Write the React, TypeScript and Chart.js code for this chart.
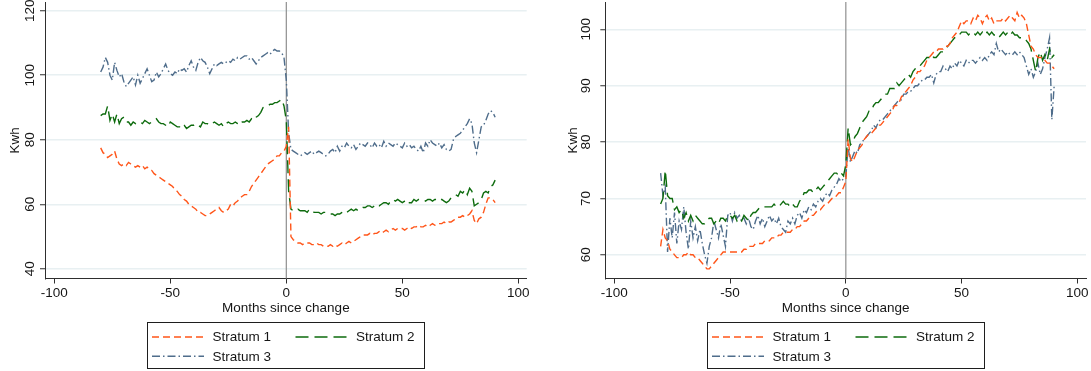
import React, { useEffect, useRef } from "react";
import { Chart, registerables } from "chart.js";

Chart.register(...registerables);

// ---------- data ----------
const MONTH_FIRST = -80; // first month in every series (series run monthly from -80 to 90)
const SERIES_LABELS = ["Stratum 1", "Stratum 2", "Stratum 3"];
const X_TITLE = "Months since change";
const Y_TITLE = "Kwh";
const X_TICKS = [-100, -50, 0, 50, 100];
const LEFT_Y_TICKS = [40, 60, 80, 100, 120];
const RIGHT_Y_TICKS = [60, 70, 80, 90, 100];

const LEFT_S1 = [
  77.5, 76, 75.5, 74.5, 75, 75.5, 76.5, 74, 72.5, 72,
  72.5, 72, 73, 72.5, 72, 71.5, 72, 71.5, 72, 71,
  71.5, 71, 70.5, 69.5, 69, 68.5, 68, 67.5, 67, 66.5,
  66, 65.5, 64.5, 64, 63, 62.5, 61.5, 61, 60, 59.5,
  59, 58.5, 57.5, 57.5, 57, 56.5, 56.5, 57, 57.5, 58,
  58.5, 59, 58, 57.5, 58, 58.5, 60, 59.5, 60.5, 61,
  62, 62.5, 63, 63, 64, 65.5, 66.5, 67.5, 68.5, 69.5,
  70.5, 71.5, 72.5, 73, 73.5, 74, 75, 75, 76, 76.5,
  78, 84, 50, 49, 48.5, 48, 48, 47.5, 48, 48,
  48, 47.5, 47.5, 48, 47.5, 47.5, 47, 47, 47, 47.5,
  47, 47.5, 47, 47.5, 48, 47.5, 48, 48.5, 48, 48.5,
  49, 49.5, 50, 50.5, 50.5, 50.5, 51, 50.5, 51, 51,
  51.5, 51, 51.5, 52, 51.5, 52, 52.5, 52, 52.5, 52.5,
  52.5, 52, 52.5, 53, 52.5, 53, 53, 53.5, 53, 53,
  53.5, 53, 53.5, 54, 53.5, 54, 54, 54, 54.5, 54,
  54.5, 54.5, 55, 55.5, 56, 56, 56.5, 56, 56.5, 57,
  58, 55, 54, 55.5, 56, 57.5, 60, 62, 62, 61.5,
  60.5,
];
const LEFT_S2 = [
  87.5, 88, 88, 90.5, 86, 88, 85.5, 88, 85, 86.5,
  87, 85.5, 85.5, 84.5, 85.5, 85, 85.5, 85.5, 85, 86,
  85.5, 85, 85.5, 86, 86.5, 85.5, 85, 85, 84.5, 84,
  85.5, 85, 84.5, 84, 84, 85, 84.5, 83.5, 84, 84.5,
  84.5, 85, 84.5, 84, 85.5, 85, 85, 84.5, 85, 85.5,
  85, 84.5, 85, 84, 85, 85.5, 85, 85, 85.5, 85,
  84.5, 85.5, 85.5, 86, 85.5, 86.5, 86, 87, 87.5, 88.5,
  90, 90.5, 90.5, 91, 91, 91.5, 91.5, 92, 92.5, 90.5,
  86, 64, 58.5, 58, 58, 58.5, 58, 58, 58, 57.5,
  58.5, 58, 57.5, 57.5, 57.5, 57, 57.5, 57.5, 57, 57,
  57, 56.5, 57, 57, 57.5, 58, 57.5, 58, 58.5, 58,
  58.5, 58, 58.5, 59, 59, 59.5, 59.5, 59, 59.5, 60,
  59.5, 60, 60.5, 60.5, 60, 61, 61.5, 61, 61.5, 61,
  60.5, 61, 61.5, 60.5, 60.5, 61.5, 61, 61.5, 61.5, 61.5,
  61, 61.5, 61.5, 61, 61.5, 61.5, 61, 61.5, 61, 60.5,
  61, 62, 62.5, 63, 62.5, 64, 63.5, 64.5, 63, 65,
  64, 59.5, 60, 60.5, 61.5, 63.5, 64, 63.5, 65.5, 66,
  67.5,
];
const LEFT_S3 = [
  101, 102.5, 105.5, 104, 100, 98.5, 104, 101.5, 99.5, 100.5,
  98, 96.5, 97.5, 98.5, 99.5, 97, 100, 97.5, 99, 100.5,
  102, 100, 98, 98.5, 101, 99.5, 100.5, 102, 103.5, 101.5,
  100.5, 100, 101, 100.5, 102, 101.5, 102, 101, 103, 104.5,
  102.5, 101.5, 104, 105.5, 104.5, 104, 102.5, 100.5, 102, 103.5,
  103, 103.5, 104, 103.5, 104, 104.5, 104, 105, 104.5, 105.5,
  105, 105.5, 106, 106, 105, 105.5, 104.5, 103.5, 104.5, 105.5,
  106, 106.5, 107, 106.5, 107.5, 108, 107.5, 107.5, 107, 105.5,
  98.5, 82, 77, 76.5, 76, 75.5, 75, 75.5, 76, 75.5,
  76, 76.5, 75.5, 76, 76.5, 76, 75.5, 75, 75.5, 76.5,
  77, 76, 78, 76.5, 78, 77.5, 79, 78, 77.5, 78.5,
  77, 78, 79, 78.5, 78, 79, 78.5, 77.5, 79, 78,
  78.5, 77.5, 79.5, 78, 79, 78.5, 78, 79, 78.5, 78,
  77.5, 79, 78, 78.5, 77.5, 78, 77, 76.5, 78, 76,
  79, 78, 80, 79, 78.5, 78, 79, 77.5, 78.5, 77,
  76.5, 77, 80, 81, 81.5, 82, 83, 84, 85, 86.5,
  85, 79, 76, 80, 84, 84.5, 86, 88, 89, 88.5,
  87,
];

const RIGHT_S1 = [
  61.5, 64.5, 63, 62.5, 61, 60.5, 60, 59.5, 59.5, 59.5,
  60, 60, 60.5, 60, 60, 59.5, 59.5, 59, 58.5, 58,
  57.5, 57.5, 58, 58.5, 59, 59.5, 60, 60.5, 60.5, 60.5,
  60.5, 60.5, 60.5, 60.5, 60.5, 60.5, 61, 61, 61.5, 61.5,
  61.5, 62, 62, 62, 62, 62.5, 62.5, 62.5, 63, 63,
  63, 63.5, 63.5, 64, 64, 64, 64, 64.5, 64.5, 65,
  65, 65.5, 66, 66, 66.5, 67, 67, 67.5, 68, 68,
  68.5, 69, 69, 69.5, 70, 70, 70.5, 71, 71, 72,
  73, 80.5, 77, 76.5, 77.5, 78.5, 79, 79.5, 80.5, 81,
  81.5, 81.5, 82, 82.5, 83, 83, 83.5, 84, 84.5, 85,
  85.5, 86.5, 86.5, 87, 88, 88.5, 89, 89.5, 90, 91,
  91.5, 92.5, 92.5, 93, 93.5, 94.5, 95, 95.5, 96, 96,
  96.5, 96.5, 96.5, 97, 97, 97.5, 98.5, 99, 99.5, 100.5,
  101.5, 101, 101.5, 101.5, 101, 102, 101.5, 102.5, 102, 101,
  102, 102.5, 101.5, 102, 101, 101.5, 101.5, 101.5, 102, 101.5,
  102, 102.5, 102, 101.5, 103, 102, 102.5, 102, 101, 99,
  97, 96.5, 95.5, 95, 95, 95, 94.5, 94, 94, 93.5,
  93,
];
const RIGHT_S2 = [
  69, 70, 75, 70.5, 70, 70, 68, 68.5, 67.5, 68,
  66.5, 67.5, 66, 67, 66, 67, 66.5, 66, 65.5, 65.5,
  66, 66.5, 66.5, 65.5, 66, 65.5, 66.5, 66.5, 66, 67,
  67, 66.5, 67, 66, 66.5, 66, 67, 66.5, 66, 67,
  67.5, 67.5, 68, 68.5, 68.5, 68.5, 68.5, 68.5, 68.5, 69,
  68.5, 68.5, 69, 69.5, 69, 69, 68.5, 69, 68.5, 68.5,
  69.5, 70, 71, 71, 71.5, 71.5, 71, 71.5, 72, 71.5,
  72, 72.5, 73, 73.5, 74, 74.5, 74.5, 74, 74.5, 74,
  76, 82.5, 79.5, 80, 81, 81.5, 82.5, 83.5, 84, 84.5,
  85.5, 85.5, 86.5, 87, 87, 87.5, 88, 88.5, 88.5, 89.5,
  89.5, 89.5, 90.5, 90, 90.5, 91, 91.5, 92, 91.5, 92.5,
  93, 93, 93.5, 94, 94.5, 95, 95, 95.5, 95, 95,
  95.5, 96, 96, 96.5, 97, 97.5, 98, 98.5, 98.5, 99,
  99.5, 99.5, 99.5, 99, 99.5, 99.5, 99, 99.5, 99, 99.5,
  99, 99.5, 99, 99.5, 99, 99, 98.5, 99, 99.5, 99,
  99.5, 99, 99.5, 99, 99, 98.5, 98.5, 98.5, 98, 97.5,
  96.5, 94.5, 92.5, 95, 96, 94.5, 95.5, 94.5, 96.5, 95,
  95.5,
];
const RIGHT_S3 = [
  74.5, 70.5, 72, 60.5, 66.5, 63, 67.5, 62, 66, 64.5,
  68.5, 64, 61, 66, 63, 65, 62.5, 64.5, 62, 60,
  58.5, 61.5, 63, 66, 64.5, 63, 65.5, 63.5, 61.5, 67,
  67.5, 66, 67.5, 66.5, 67, 66, 66.5, 65.5, 66.5, 65,
  64.5, 66, 67, 65.5, 66.5, 65, 66, 67, 66, 66.5,
  65.5, 66.5, 65, 64.5, 64, 66, 65.5, 66.5, 65.5, 67,
  67.5, 66.5, 68, 67.5, 68.5, 68, 69, 68.5, 69.5, 70,
  69.5, 70.5, 71, 70.5, 71.5, 72, 72.5, 73.5, 73, 73.5,
  74, 79, 76.5, 77.5, 78.5, 78, 79.5, 80, 80.5, 81,
  81.5, 82, 83, 82.5, 83.5, 84, 84, 84.5, 85, 85.5,
  86, 86.5, 87, 87.5, 87.5, 88.5, 88.5, 89, 89, 89.5,
  90, 90, 90.5, 91, 91, 91.5, 91.5, 92, 90.5, 92,
  92.5, 92.5, 93.5, 93, 92.5, 93.5, 93, 94, 93.5, 94.5,
  94, 93.5, 94.5, 94, 94.5, 94.5, 94, 94.5, 95, 94.5,
  95, 94.5, 95.5, 96, 95.5, 97.5, 96, 96.5, 96, 95.5,
  96, 95.5, 95.5, 96, 95.5, 96, 95.5, 95, 93.5, 92,
  93, 91.5, 92.5, 94, 92, 93, 95, 96.5, 98.5, 84,
  90,
];

// ---------- styles ----------
const FONT = "'Liberation Sans', Arial, Helvetica, sans-serif";
const FONT_SIZE = 13.5;
const TEXT_COLOR = "#161616";
const AXIS_COLOR = "#2e2e2e";
const GRID_COLOR = "#e8f0f2";
const COLORS = ["#ff5519", "#0d6b0d", "#4f6d8b"];
const DASHES = [[7, 4], [13, 6], [8, 3, 1.5, 3]];
const HEIGHT = 371;

type PanelCfg = {
  series: number[][];
  yTicks: number[];
  yMin: number; yMax: number;
  xMin: number; xMax: number;
  width: number;
  yAxisWidth: number;
  rightPad: number;
  yLabelOffset: number;
  yTitlePad: number;
};

const LEFT: PanelCfg = {
  series: [LEFT_S1, LEFT_S2, LEFT_S3],
  yTicks: LEFT_Y_TICKS,
  yMin: 37.0, yMax: 122.7,
  xMin: -104.0, xMax: 103.6,
  width: 545,
  yAxisWidth: 45,
  rightPad: 18.3,
  yLabelOffset: 15,
  yTitlePad: 7,
};
const RIGHT: PanelCfg = {
  series: [RIGHT_S1, RIGHT_S2, RIGHT_S3],
  yTicks: RIGHT_Y_TICKS,
  yMin: 55.8, yMax: 104.85,
  xMin: -103.9, xMax: 103.75,
  width: 546,
  yAxisWidth: 60.3,
  rightPad: 5,
  yLabelOffset: 18.6,
  yTitlePad: 20.2,
};

function makeChart(canvas: HTMLCanvasElement, p: PanelCfg) {
  const font = { family: FONT, size: FONT_SIZE };

  const zeroLine = {
    id: "zeroLine",
    beforeDatasetsDraw(chart: any) {
      const { ctx, chartArea } = chart;
      const x = chart.scales.x.getPixelForValue(0);
      ctx.save();
      ctx.strokeStyle = "#8f8f8f";
      ctx.lineWidth = 1.2;
      ctx.beginPath();
      ctx.moveTo(x, chartArea.top);
      ctx.lineTo(x, chartArea.bottom);
      ctx.stroke();
      ctx.restore();
    },
  };

  const yLabels = {
    id: "yLabels",
    afterDraw(chart: any) {
      const { ctx, chartArea } = chart;
      const ys = chart.scales.y;
      ctx.save();
      ctx.font = `${FONT_SIZE}px ${FONT}`;
      ctx.fillStyle = TEXT_COLOR;
      ctx.textAlign = "center";
      ctx.textBaseline = "middle";
      ys.ticks.forEach((t: any) => {
        const py = ys.getPixelForValue(t.value);
        ctx.save();
        ctx.translate(chartArea.left - p.yLabelOffset, py);
        ctx.rotate(-Math.PI / 2);
        ctx.fillText(String(t.value), 0, 0);
        ctx.restore();
      });
      ctx.restore();
    },
  };

  const legendBox = {
    id: "legendBox",
    afterDraw(chart: any) {
      const { ctx, chartArea } = chart;
      const cx = (chartArea.left + chartArea.right) / 2;
      const L = Math.round(cx - 138.5);
      const top = 322.5;
      ctx.save();
      ctx.strokeStyle = "#1e1e1e";
      ctx.lineWidth = 1;
      ctx.strokeRect(L + 0.5, top, 277, 46);
      const rows = [337, 356.3];
      ctx.font = `${FONT_SIZE}px ${FONT}`;
      ctx.textBaseline = "middle";
      ctx.textAlign = "left";
      chart.data.datasets.forEach((ds: any, i: number) => {
        const col = i % 2;
        const row = Math.floor(i / 2);
        const x0 = L + 5 + col * 143.5;
        const y = rows[row];
        ctx.setLineDash(ds.borderDash);
        ctx.strokeStyle = ds.borderColor;
        ctx.lineWidth = 1.4;
        ctx.beginPath();
        ctx.moveTo(x0, y);
        ctx.lineTo(x0 + 52, y);
        ctx.stroke();
        ctx.setLineDash([]);
        ctx.fillStyle = TEXT_COLOR;
        ctx.fillText(ds.label, L + 65.5 + col * 143.5, y + 0.5);
      });
      ctx.restore();
    },
  };

  const datasets = p.series.map((arr, k) => ({
    label: SERIES_LABELS[k],
    data: arr.map((v, i) => ({ x: MONTH_FIRST + i, y: v })),
    borderColor: COLORS[k],
    backgroundColor: COLORS[k],
    borderDash: DASHES[k],
    borderWidth: 1.4,
    pointRadius: 0,
    fill: false,
    tension: 0,
  }));

  return new Chart(canvas, {
    type: "line",
    data: { datasets } as any,
    options: {
      responsive: false,
      animation: false,
      events: [],
      layout: { padding: { left: 0, top: 2, right: p.rightPad, bottom: 52.5 } },
      plugins: { legend: { display: false }, tooltip: { enabled: false } },
      scales: {
        x: {
          type: "linear",
          min: p.xMin,
          max: p.xMax,
          afterBuildTicks: (s: any) => {
            s.ticks = X_TICKS.map((v) => ({ value: v }));
          },
          afterFit: (s: any) => {
            s.height = 40;
            s.paddingLeft = 0;
            s.paddingRight = 0;
          },
          grid: {
            drawOnChartArea: false,
            drawTicks: true,
            tickLength: 5,
            tickColor: AXIS_COLOR,
            tickWidth: 1,
          },
          border: { display: true, color: AXIS_COLOR, width: 1 },
          ticks: {
            font,
            color: TEXT_COLOR,
            padding: 1.7,
            maxRotation: 0,
            minRotation: 0,
            autoSkip: false,
          },
          title: {
            display: true,
            text: X_TITLE,
            font,
            color: TEXT_COLOR,
            padding: { top: 0, bottom: 2.1 },
          },
        },
        y: {
          type: "linear",
          min: p.yMin,
          max: p.yMax,
          afterBuildTicks: (s: any) => {
            s.ticks = p.yTicks.map((v) => ({ value: v }));
          },
          afterFit: (s: any) => {
            s.width = p.yAxisWidth;
            s.paddingTop = 0;
            s.paddingBottom = 0;
          },
          grid: {
            color: GRID_COLOR,
            lineWidth: 1.5,
            drawTicks: true,
            tickLength: 5,
            tickColor: AXIS_COLOR,
            tickWidth: 1,
          },
          border: { display: true, color: AXIS_COLOR, width: 1 },
          ticks: { display: false },
          title: {
            display: true,
            text: Y_TITLE,
            font,
            color: TEXT_COLOR,
            padding: { top: p.yTitlePad, bottom: 0 },
          },
        },
      },
    } as any,
    plugins: [zeroLine, yLabels, legendBox],
  });
}

function Panel({ cfg }: { cfg: PanelCfg }) {
  const ref = useRef<HTMLCanvasElement>(null);
  useEffect(() => {
    if (!ref.current) return;
    const chart = makeChart(ref.current, cfg);
    return () => chart.destroy();
  }, [cfg]);
  return (
    <canvas
      ref={ref}
      width={cfg.width}
      height={HEIGHT}
      style={{ display: "block", width: cfg.width, height: HEIGHT }}
    />
  );
}

export default function App() {
  return (
    <div
      style={{
        position: "absolute",
        left: 0,
        top: 0,
        width: 1091,
        height: HEIGHT,
        display: "flex",
        background: "#ffffff",
      }}
    >
      <Panel cfg={LEFT} />
      <Panel cfg={RIGHT} />
    </div>
  );
}
